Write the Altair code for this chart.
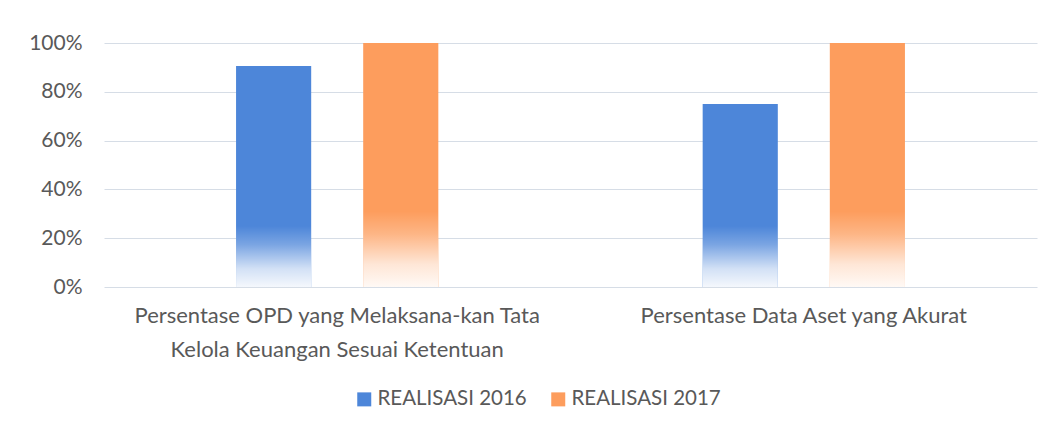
import altair as alt
import pandas as pd

categories = [
    "Persentase OPD yang Melaksana-kan Tata\nKelola Keuangan Sesuai Ketentuan",
    "Persentase Data Aset yang Akurat",
]
series = ["REALISASI 2016", "REALISASI 2017"]
values_2016 = [0.906, 0.75]
values_2017 = [1.0, 1.0]
y_ticks = [0, 0.2, 0.4, 0.6, 0.8, 1.0]

rows = []
for c, v16, v17 in zip(categories, values_2016, values_2017):
    rows.append({"category": c, "series": series[0], "value": v16})
    rows.append({"category": c, "series": series[1], "value": v17})
df = pd.DataFrame(rows)

FONT = "Lato"
TEXT = "#595959"
BLUE = "#4d86d9"
ORANGE = "#fd9d5d"

x_enc = alt.X(
    "category:N",
    sort=categories,
    scale=alt.Scale(paddingInner=0.5665, paddingOuter=0.283),
    axis=alt.Axis(
        title=None,
        labelAngle=0,
        labelExpr="split(datum.label, '\\n')",
        labelFontSize=22,
        labelColor=TEXT,
        labelFont=FONT,
        labelLineHeight=34,
        labelPadding=18,
        labelLimit=800,
        ticks=False,
        domain=False,
        grid=False,
        labelBaseline="top",
    ),
)
xoff_enc = alt.XOffset(
    "series:N",
    sort=series,
    scale=alt.Scale(paddingInner=0.409, paddingOuter=0),
)

bars = alt.Chart(df).mark_bar().encode(
    x=x_enc,
    xOffset=xoff_enc,
    y=alt.Y(
        "value:Q",
        scale=alt.Scale(domain=[0, 1]),
        axis=alt.Axis(
            title=None,
            values=y_ticks,
            format=".0%",
            labelFontSize=21,
            labelColor=TEXT,
            labelFont=FONT,
            labelPadding=22,
            ticks=False,
            domain=False,
            gridColor="#d6dde6",
            gridWidth=1,
        ),
    ),
    color=alt.Color(
        "series:N",
        sort=series,
        scale=alt.Scale(domain=series, range=[BLUE, ORANGE]),
        legend=alt.Legend(
            title=None,
            orient="none",
            direction="horizontal",
            legendX=250,
            legendY=346,
            symbolType="square",
            symbolSize=196,
            symbolStrokeWidth=0,
            labelFontSize=20.5,
            labelColor=TEXT,
            labelFont=FONT,
            labelOffset=3,
            columnPadding=21,
        ),
    ),
)

fade = (
    alt.Chart(df)
    .transform_calculate(
        fade_top="datum.series == 'REALISASI 2016' ? 0.25 : 0.31", zero="0"
    )
    .mark_bar(
        fill=alt.Gradient(
            gradient="linear",
            stops=[
                alt.GradientStop(color="rgba(255,255,255,0)", offset=0),
                alt.GradientStop(color="rgba(255,255,255,0.25)", offset=0.3),
                alt.GradientStop(color="rgba(255,255,255,0.75)", offset=0.7),
                alt.GradientStop(color="rgba(255,255,255,0.94)", offset=1),
            ],
            x1=0, x2=0, y1=0, y2=1,
        )
    )
    .encode(
        x=alt.X("category:N", sort=categories),
        xOffset=alt.XOffset("series:N", sort=series),
        y=alt.Y("fade_top:Q"),
        y2=alt.Y2("zero:Q"),
    )
)

chart = (
    alt.layer(bars, fade)
    .properties(
        width=933,
        height=244,
        autosize=alt.AutoSizeParams(type="none"),
        padding={"left": 96, "top": 35, "right": 9, "bottom": 136},
        background="white",
    )
    .configure_view(stroke=None)
)

chart.save("out.html", embed_options={"renderer": "svg", "actions": False})
